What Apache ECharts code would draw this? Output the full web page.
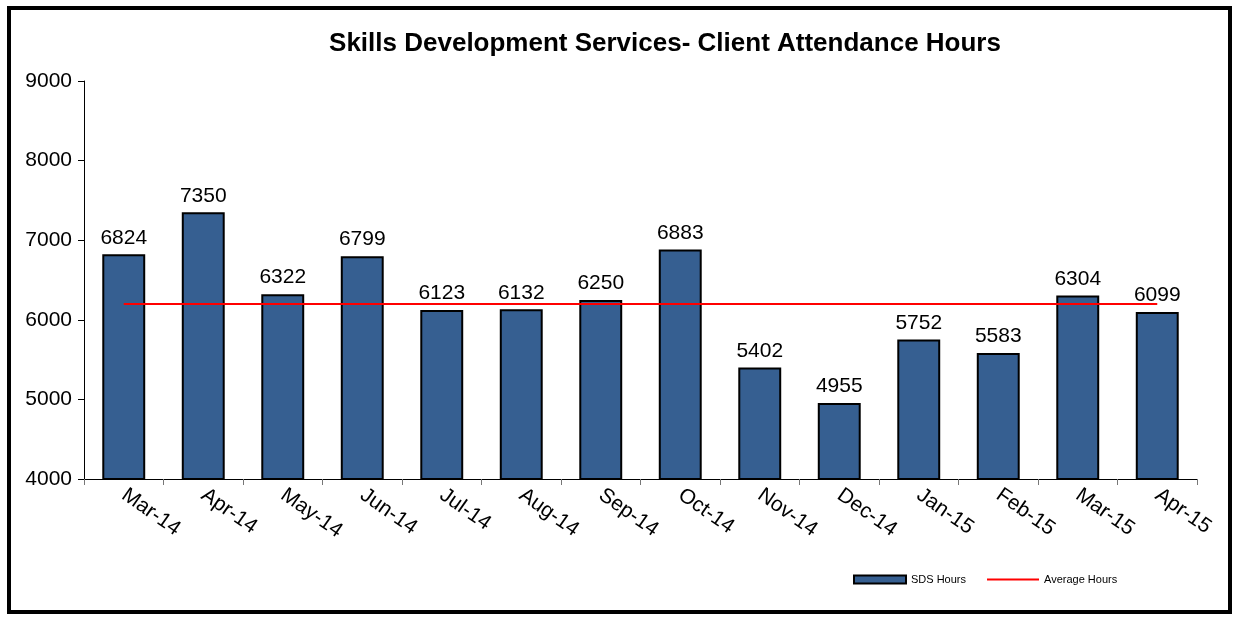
<!DOCTYPE html>
<html>
<head>
<meta charset="utf-8">
<script src="https://cdn.jsdelivr.net/npm/echarts@6/dist/echarts.min.js"></script>
<style>
html,body{margin:0;padding:0;background:#fff;}
#frame{position:absolute;left:7px;top:6px;width:1217px;height:600px;border:4px solid #000;box-sizing:content-box;}
#chart{position:absolute;left:0;top:0;width:1235px;height:617px;}
</style>
</head>
<body>
<div id="frame"></div>
<div id="chart"></div>
<script>
const categories = ['Mar-14','Apr-14','May-14','Jun-14','Jul-14','Aug-14','Sep-14','Oct-14','Nov-14','Dec-14','Jan-15','Feb-15','Mar-15','Apr-15'];
const sdsHours = [6824,7350,6322,6799,6123,6132,6250,6883,5402,4955,5752,5583,6304,6099];
const averageHours = [6198,6198,6198,6198,6198,6198,6198,6198,6198,6198,6198,6198,6198,6198];
const yTicks = {min:4000, max:9000, interval:1000};
const titleText = 'Skills Development Services- Client Attendance Hours';

const chart = echarts.init(document.getElementById('chart'), null, {renderer:'canvas'});
const font = 'Liberation Sans, Arial, sans-serif';
chart.setOption({
  animation:false,
  backgroundColor:'transparent',
  textStyle:{fontFamily:font},
  title:{text:titleText,left:660,textAlign:'center',top:26,
    textStyle:{fontFamily:font,fontSize:26,fontWeight:'bold',color:'#000'}},
  legend:{bottom:27,left:848,itemWidth:52,itemHeight:8,itemGap:20,
    textStyle:{fontFamily:font,fontSize:11,color:'#000'},
    data:[{name:'SDS Hours',icon:'rect'},{name:'Average Hours',itemStyle:{opacity:0}}]},
  grid:{left:84,right:38,top:81,bottom:138,containLabel:false},
  xAxis:{type:'category',data:categories,
    axisLine:{lineStyle:{color:'#000',width:1}},
    axisTick:{show:true,alignWithLabel:false,length:6,lineStyle:{color:'#777'}},
    axisLabel:{rotate:-35,fontSize:21,color:'#000',margin:14,fontFamily:font,interval:0}},
  yAxis:{type:'value',min:yTicks.min,max:yTicks.max,interval:yTicks.interval,
    axisLine:{show:true,lineStyle:{color:'#000',width:1}},
    axisTick:{show:true,length:6,lineStyle:{color:'#000'}},
    splitLine:{show:false},
    axisLabel:{fontSize:21,color:'#000',margin:12,fontFamily:font,formatter:function(v){return String(v);}}},
  series:[
    {name:'SDS Hours',type:'bar',data:sdsHours,barWidth:'54%',
      itemStyle:{color:'#365F91',borderColor:'#000',borderWidth:2},
      label:{show:true,position:'top',distance:6,fontSize:21,color:'#000',fontFamily:font}},
    {name:'Average Hours',type:'line',data:averageHours,symbol:'none',
      lineStyle:{color:'#FF0000',width:2},itemStyle:{color:'#FF0000'},z:5}
  ]
});
</script>
</body>
</html>
